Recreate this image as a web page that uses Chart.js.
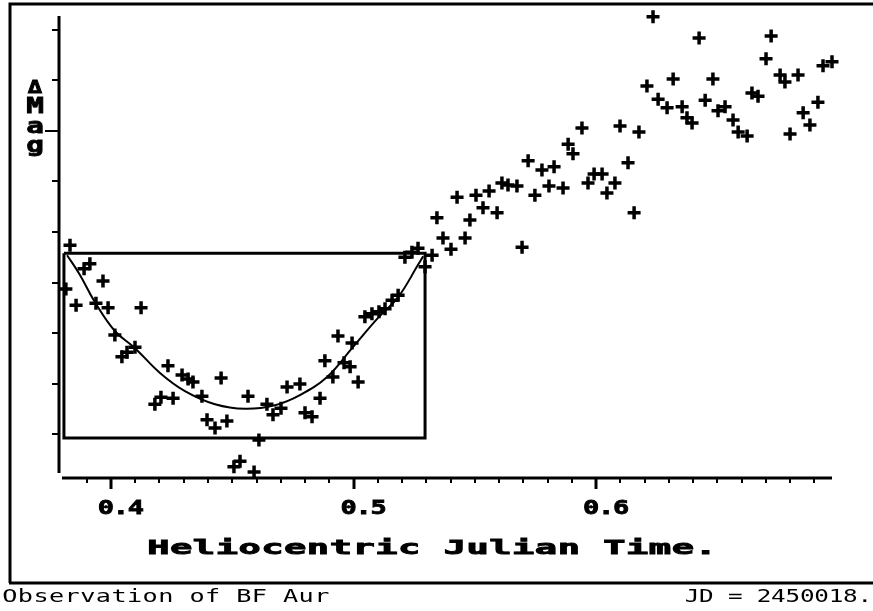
<!DOCTYPE html>
<html>
<head>
<meta charset="utf-8">
<script src="https://cdn.jsdelivr.net/npm/chart.js@4.4.1/dist/chart.umd.min.js"></script>
<style>
  html, body { margin: 0; padding: 0; background: #fff; }
  #wrap { width: 873px; height: 611px; position: relative; }
</style>
</head>
<body>
<div id="wrap"><canvas id="lightCurve"></canvas></div>
<script>
// observations of BF Aur (time = fraction of HJD, mag = differential magnitude)
const obsTime = [
  0.3831, 0.3913, 0.3889, 0.3814, 0.3967, 0.3856, 0.3938, 0.3988, 0.4124, 0.4016,
  0.4099, 0.4066, 0.4045, 0.4235, 0.4293, 0.4318, 0.4338, 0.4454, 0.4375, 0.4256,
  0.4206, 0.4181, 0.4565, 0.4396, 0.4429, 0.4478, 0.4507, 0.4532, 0.4590, 0.4610,
  0.4643, 0.4668, 0.4701, 0.4726, 0.4779, 0.4800, 0.4829, 0.4862, 0.4882, 0.4915,
  0.4961, 0.4986, 0.5019, 0.4936, 0.4994, 0.5047, 0.5076, 0.5105, 0.5130, 0.5159,
  0.5184, 0.5212, 0.5241, 0.5266, 0.5295, 0.5324, 0.5369, 0.5402, 0.5344, 0.5460,
  0.5427, 0.5480, 0.5505, 0.5534, 0.5559, 0.5592, 0.5612, 0.5637, 0.5674, 0.5695,
  0.5748, 0.5806, 0.5864, 0.5720, 0.5777, 0.5827, 0.5885, 0.5905, 0.5942, 0.5992,
  0.6025, 0.5967, 0.6078, 0.6045, 0.6099, 0.6177, 0.6132, 0.6157, 0.6235, 0.6425,
  0.6722, 0.6701, 0.6936, 0.6973, 0.6210, 0.6318, 0.6482, 0.6759, 0.6779, 0.6833,
  0.6256, 0.6293, 0.6355, 0.6375, 0.6396, 0.6450, 0.6503, 0.6532, 0.6565, 0.6586,
  0.6623, 0.6643, 0.6668, 0.6800, 0.6854, 0.6882, 0.6915
];
const obsMag = [
  0.374, 0.337, 0.327, 0.287, 0.303, 0.255, 0.259, 0.250, 0.250, 0.196,
  0.172, 0.162, 0.153, 0.135, 0.117, 0.109, 0.103, 0.111, 0.075, 0.071,
  0.073, 0.059, 0.075, 0.028, 0.012, 0.026, -0.065, -0.054, -0.075, -0.012,
  0.059, 0.038, 0.051, 0.093, 0.099, 0.042, 0.034, 0.071, 0.145, 0.113,
  0.141, 0.133, 0.103, 0.194, 0.180, 0.232, 0.238, 0.242, 0.248, 0.265,
  0.275, 0.350, 0.360, 0.368, 0.331, 0.354, 0.388, 0.366, 0.428, 0.388,
  0.469, 0.424, 0.473, 0.448, 0.481, 0.438, 0.497, 0.493, 0.491, 0.370,
  0.473, 0.491, 0.487, 0.541, 0.523, 0.529, 0.574, 0.555, 0.606, 0.515,
  0.515, 0.497, 0.497, 0.477, 0.610, 0.598, 0.537, 0.438, 0.826, 0.784,
  0.788, 0.743, 0.729, 0.737, 0.689, 0.703, 0.703, 0.711, 0.697, 0.711,
  0.663, 0.646, 0.648, 0.626, 0.616, 0.661, 0.640, 0.648, 0.622, 0.598,
  0.590, 0.675, 0.669, 0.594, 0.636, 0.612, 0.657
];

// fitted minimum curve
const curveTime = [0.3819, 0.3872, 0.3934, 0.4016, 0.4099, 0.4202, 0.4305, 0.4429, 0.4553,
  0.4676, 0.4779, 0.4891, 0.4994, 0.5101, 0.5184, 0.5266, 0.5287];
const curveMag = [0.354, 0.315, 0.261, 0.204, 0.170, 0.121, 0.085, 0.059, 0.050,
  0.057, 0.077, 0.113, 0.170, 0.230, 0.271, 0.335, 0.352];

// selection box round the minimum
const boxTime = [0.3806, 0.5295, 0.5295, 0.3806, 0.3806];
const boxMag = [0.358, 0.358, -0.008, -0.008, 0.358];

const xMajorTicks = [0.4, 0.5, 0.6];
const xTickLabels = ["0.4", "0.5", "0.6"];
const yTicks = [0, 0.1, 0.2, 0.3, 0.4, 0.5, 0.6, 0.7, 0.8];

const pts = (xs, ys) => xs.map((v, i) => ({ x: v, y: ys[i] }));

// draw text one char at a time, wide like the old screen font
function wideText(ctx, str, x0, yMid, pitch, font, sx, heavy) {
  ctx.font = font;
  ctx.textAlign = "center";
  ctx.textBaseline = "middle";
  [...str].forEach((ch, i) => {
    ctx.save();
    ctx.translate(x0 + pitch * (i + 0.5), yMid);
    ctx.scale(sx, 1);
    ctx.fillText(ch, 0, 0);
    if (heavy) {
      ctx.lineWidth = heavy;
      ctx.strokeText(ch, 0, 0);
    }
    ctx.restore();
  });
}

const screenFrame = {
  id: "screenFrame",
  afterDraw(chart) {
    const ctx = chart.ctx;
    const x = chart.scales.x;
    const y = chart.scales.y;
    const a = chart.chartArea;
    ctx.save();
    ctx.strokeStyle = "#000";
    ctx.fillStyle = "#000";

    // outer frame
    ctx.lineWidth = 3;
    ctx.beginPath();
    ctx.moveTo(10, 583);
    ctx.lineTo(10, 4);
    ctx.lineTo(873, 4);
    ctx.moveTo(9, 583);
    ctx.lineTo(873, 583);
    ctx.stroke();

    // y axis
    ctx.beginPath();
    ctx.moveTo(59, a.top);
    ctx.lineTo(59, a.bottom);
    ctx.stroke();
    ctx.lineWidth = 2;
    yTicks.forEach((v) => {
      const py = Math.round(y.getPixelForValue(v));
      ctx.beginPath();
      ctx.moveTo(v === 0.6 ? 45 : 52, py);
      ctx.lineTo(59, py);
      ctx.stroke();
    });

    // x axis
    const axisY = a.bottom + 5;
    ctx.lineWidth = 3;
    ctx.beginPath();
    ctx.moveTo(a.left, axisY);
    ctx.lineTo(a.right, axisY);
    ctx.stroke();
    for (let t = 39; t <= 69; t++) {
      const px = Math.round(x.getPixelForValue(t / 100));
      const major = t % 10 === 0;
      ctx.lineWidth = major ? 3 : 2;
      ctx.beginPath();
      ctx.moveTo(px, axisY);
      ctx.lineTo(px, axisY + (major ? 11 : 5));
      ctx.stroke();
    }

    const bold = "bold 20px 'DejaVu Sans Mono'";
    xMajorTicks.forEach((v, i) => {
      const px = x.getPixelForValue(v);
      const s = xTickLabels[i];
      wideText(ctx, s, px + 10 - (s.length * 15) / 2, 509, 15, bold, 1.35, 0.8);
    });

    wideText(ctx, "Heliocentric Julian Time.", 147, 549, 22.8, bold, 1.85, 0.9);

    // stacked y label
    const lab = ["\u0394", "M", "a", "g"];
    const labY = [89, 108, 128, 147];
    lab.forEach((ch, i) => {
      wideText(ctx, ch, 26, labY[i], 18,
        i === 0 ? "bold 17px 'DejaVu Sans Mono'" : "bold 21px 'DejaVu Sans Mono'", 1.4, 0.8);
    });

    // footer
    const reg = "18px 'DejaVu Sans Mono'";
    wideText(ctx, "Observation of BF Aur", 2, 597, 15.6, reg, 1.4);
    wideText(ctx, "JD = 2450018.", 872 - 13 * 14.4, 597, 14.4, reg, 1.35);
    ctx.restore();
  },
};

const ctx = document.getElementById("lightCurve").getContext("2d");

new Chart(ctx, {
  type: "scatter",
  data: {
    datasets: [
      {
        data: pts(boxTime, boxMag),
        showLine: true,
        borderColor: "#000",
        borderWidth: 3,
        pointRadius: 0,
        clip: false,
      },
      {
        data: pts(curveTime, curveMag),
        showLine: true,
        borderColor: "#000",
        borderWidth: 2,
        tension: 0.4,
        pointRadius: 0,
        clip: false,
      },
      {
        data: pts(obsTime, obsMag),
        pointStyle: "cross",
        pointRadius: 6.5,
        pointBorderWidth: 3.5,
        borderColor: "#000",
        backgroundColor: "#000",
        clip: false,
      },
    ],
  },
  options: {
    animation: false,
    responsive: true,
    maintainAspectRatio: false,
    layout: {
      padding: { left: 62, right: 41, top: 16, bottom: 138 },
    },
    plugins: {
      legend: { display: false },
      tooltip: { enabled: false },
    },
    scales: {
      x: { type: "linear", min: 0.3798, max: 0.6973, display: false },
      y: { type: "linear", min: -0.0772, max: 0.8277, display: false },
    },
  },
  plugins: [screenFrame],
});
</script>
</body>
</html>
